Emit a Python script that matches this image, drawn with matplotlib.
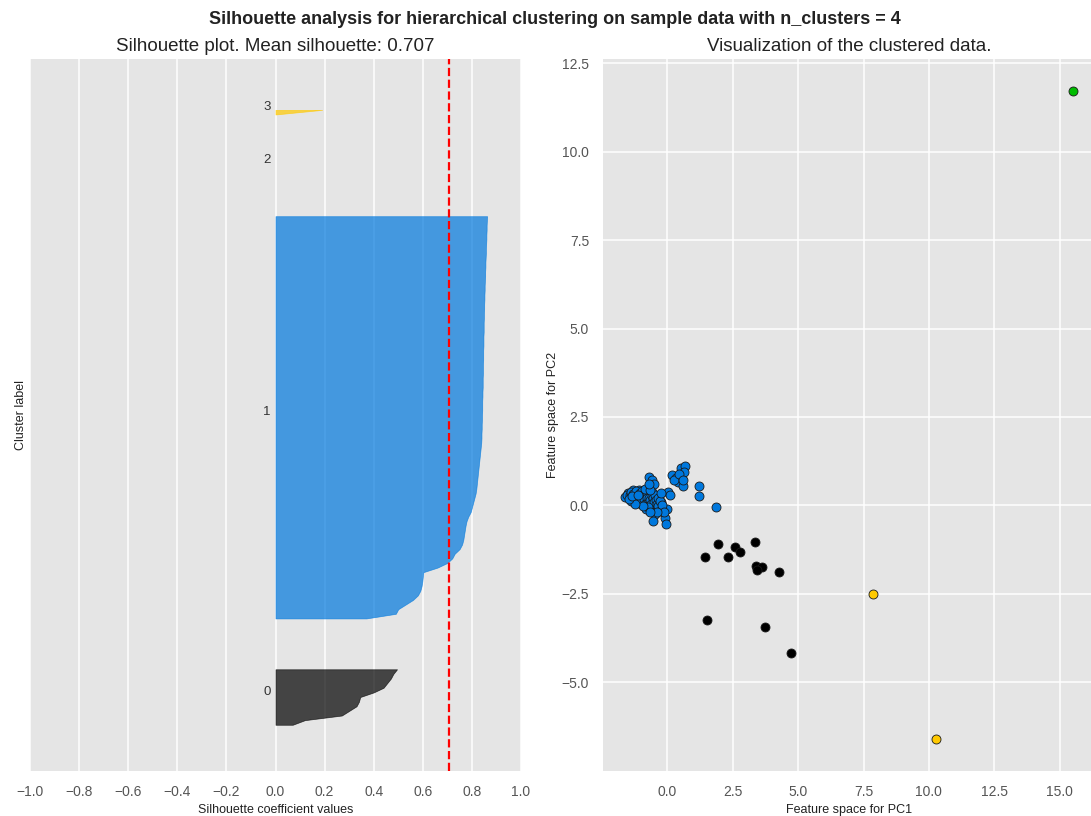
import numpy as np
import matplotlib
matplotlib.use("Agg")
import matplotlib.pyplot as plt
import matplotlib.cm as cm

# silhouette values per cluster, sorted ascending
sil_cluster0 = [0.07, 0.12, 0.27, 0.30, 0.33, 0.34, 0.345, 0.40, 0.44, 0.455, 0.47, 0.48, 0.495]
sil_cluster1 = [
    0.37, 0.49, 0.50, 0.53, 0.56, 0.58, 0.59, 0.595, 0.598, 0.600, 0.602,
    0.66, 0.70, 0.72, 0.73, 0.75, 0.76, 0.765, 0.768, 0.771, 0.774, 0.778,
    0.785, 0.795, 0.800, 0.805, 0.810, 0.815, 0.818, 0.820,
    0.822, 0.824, 0.826, 0.828, 0.830, 0.832, 0.834, 0.836,
    0.838, 0.839, 0.839, 0.840, 0.840, 0.841, 0.841, 0.842, 0.842, 0.842,
    0.843, 0.843, 0.844, 0.844, 0.844, 0.845, 0.845, 0.845, 0.846, 0.846,
    0.846, 0.847, 0.847, 0.847, 0.848, 0.848, 0.848,
    0.849, 0.849, 0.850, 0.850, 0.851, 0.851, 0.852, 0.852, 0.853, 0.854,
    0.854, 0.855, 0.855, 0.856, 0.857, 0.857, 0.858, 0.859, 0.859, 0.860,
    0.860, 0.861, 0.862,
]
sil_cluster2 = [0.0]
sil_cluster3 = [0.0, 0.19]
mean_silhouette = 0.707
n_clusters = 4

# projected samples (PC1, PC2) per cluster
pc1_cluster0 = [1.93, 1.45, 2.31, 2.60, 2.79, 3.34, 3.37, 3.60, 3.41, 4.26, 1.52, 3.72, 4.71]
pc2_cluster0 = [-1.10, -1.45, -1.45, -1.19, -1.32, -1.05, -1.71, -1.74, -1.83, -1.90, -3.24, -3.45, -4.18]
pc1_cluster1 = [
    -1.61, -1.52, -1.33, -1.10, -1.22, -1.39, -1.14, -1.01, -0.88, -0.94,
    -0.82, -0.69, -0.59, -0.59, -0.50, -0.62, -0.43, -0.33, -0.24, -0.46,
    -0.54, -0.11, -0.05, -0.03, -0.69, -0.59, -0.52, 0.04, 0.18, 0.31,
    0.39, 0.52, 0.61, 0.50, 0.69, 0.65, 1.20, 1.20, 1.86, -1.55,
    -1.45, -1.40, -1.30, -1.28, -1.20, -1.18, -1.05, -1.08, -1.00, -0.98,
    -0.92, -0.90, -0.85, -0.80, -0.78, -0.75, -0.72, -0.70, -0.66, -0.64,
    -0.60, -0.55, -0.52, -0.48, -0.45, -0.40, -0.38, -0.35, -0.30, -0.28,
    -0.75, -0.95, -1.25, -1.48, -1.35, -1.12, -0.85, -0.68, -0.20, -0.15,
    -0.40, -0.65, -0.70, 0.25, 0.45, 0.58, 0.10, -0.25,
]
pc2_cluster1 = [
    0.23, 0.34, 0.43, 0.43, 0.25, 0.12, 0.17, 0.03, 0.25, 0.09,
    -0.11, 0.31, 0.38, 0.12, 0.00, -0.09, -0.09, 0.25, 0.09, -0.25,
    -0.44, -0.35, -0.54, -0.11, 0.81, 0.71, 0.61, 0.38, 0.86, 0.78,
    0.66, 0.81, 0.56, 1.06, 1.11, 0.95, 0.56, 0.25, -0.05, 0.28,
    0.30, 0.38, 0.33, 0.20, 0.40, 0.10, 0.35, 0.22, 0.15, 0.40,
    0.30, 0.18, 0.05, 0.35, 0.20, 0.10, 0.00, 0.22, 0.15, 0.05,
    0.25, 0.20, 0.08, 0.30, 0.15, 0.05, 0.20, -0.02, 0.12, -0.15,
    -0.05, -0.02, 0.05, 0.18, 0.25, 0.30, 0.45, 0.42, 0.00, -0.20,
    -0.20, -0.20, 0.60, 0.72, 0.90, 0.72, 0.30, 0.35,
]
pc1_cluster2 = [15.50]
pc2_cluster2 = [11.71]
pc1_cluster3 = [7.88, 10.26]
pc2_cluster3 = [-2.51, -6.60]

sil_values = [sil_cluster0, sil_cluster1, sil_cluster2, sil_cluster3]
pc1 = [pc1_cluster0, pc1_cluster1, pc1_cluster2, pc1_cluster3]
pc2 = [pc2_cluster0, pc2_cluster1, pc2_cluster2, pc2_cluster3]
n_samples = sum(len(v) for v in sil_values)

plt.style.use("ggplot")
plt.rcParams["font.family"] = ["Liberation Sans", "DejaVu Sans"]
plt.rcParams["axes.facecolor"] = "#E5E5E5"
plt.rcParams["grid.color"] = "white"
plt.rcParams["grid.linewidth"] = 1.1

fig = plt.figure(figsize=(10.91, 8.16), dpi=100)
ax1 = fig.add_axes([30 / 1091, 45 / 816, 491 / 1091, 712 / 816])
ax2 = fig.add_axes([603 / 1091, 45 / 816, 492 / 1091, 712 / 816])

# silhouette plot
y_lower = 10
for i, vals in enumerate(sil_values):
    size = len(vals)
    y_upper = y_lower + size
    color = cm.nipy_spectral(float(i) / n_clusters)
    ax1.fill_betweenx(np.arange(y_lower, y_upper), 0, vals,
                      facecolor=color, edgecolor=color, alpha=0.7)
    ax1.text(-0.05, y_lower + 0.5 * size, str(i), fontsize=9.5, color="#333333")
    y_lower = y_upper + 10

ax1.axvline(x=mean_silhouette, color="red", linestyle="--", linewidth=1.6)
ax1.set_xlim([-1, 1])
ax1.set_ylim([0, n_samples + (n_clusters + 1) * 10])
ax1.set_yticks([])
ax1.set_xticks([-1, -0.8, -0.6, -0.4, -0.2, 0, 0.2, 0.4, 0.6, 0.8, 1])
ax1.set_title("Silhouette plot. Mean silhouette: %.3f" % mean_silhouette,
              fontsize=13.5, color="#222222", pad=6)
ax1.set_xlabel("Silhouette coefficient values", fontsize=9, color="#222222", labelpad=4)
ax1.set_ylabel("Cluster label", fontsize=9, color="#222222", labelpad=2)

# clustered data
for i in range(n_clusters):
    color = cm.nipy_spectral(float(i) / n_clusters)
    ax2.scatter(pc1[i], pc2[i], s=42, c=[color], edgecolor="#1a1a1a",
                linewidth=0.6, alpha=1.0, zorder=3)
ax2.set_xticks([0, 2.5, 5, 7.5, 10, 12.5, 15])
ax2.set_yticks([-5, -2.5, 0, 2.5, 5, 7.5, 10, 12.5])
ax2.set_title("Visualization of the clustered data.", fontsize=13.5, color="#222222", pad=6)
ax2.set_xlabel("Feature space for PC1", fontsize=9, color="#222222", labelpad=4)
ax2.set_ylabel("Feature space for PC2", fontsize=9, color="#222222", labelpad=2)

for ax in (ax1, ax2):
    ax.tick_params(axis="both", length=0, pad=10, labelsize=10, labelcolor="#555555")
    for spine in ax.spines.values():
        spine.set_visible(False)

fig.suptitle("Silhouette analysis for hierarchical clustering on sample data with n_clusters = 4",
             fontsize=13, fontweight="bold", x=555 / 1091, y=0.987, color="#222222")

fig.savefig("out.png", dpi=100)
